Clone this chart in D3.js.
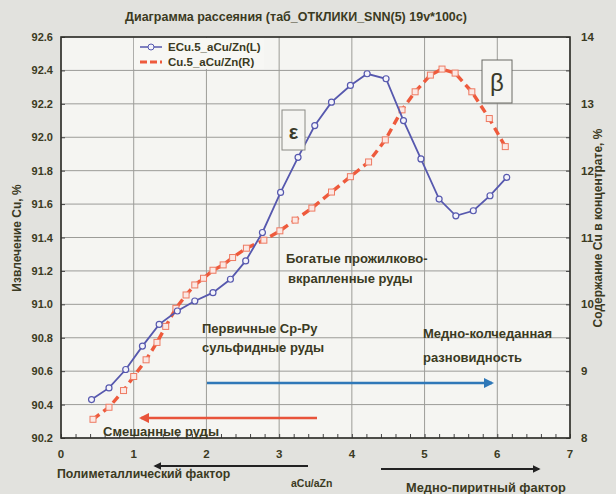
<!DOCTYPE html>
<html lang="ru">
<head>
<meta charset="utf-8" />
<title>Диаграмма рассеяния</title>
<script src="https://d3js.org/d3.v7.min.js"></script>
<style>
  body { margin: 0; background: #e2e2de; font-family: "Liberation Sans", Arial, sans-serif; }
  .lbl { font-weight: bold; fill: #3b3a22; }
  .grid line { stroke: #9c9c98; stroke-width: 1; }
</style>
</head>
<body>
<svg width="616" height="494"></svg>
<script>
// ECu.5_aCu/Zn (left axis)
const blueX = [0.42, 0.66, 0.89, 1.12, 1.35, 1.60, 1.84, 2.09, 2.33, 2.54, 2.77, 3.02, 3.26,
  3.49, 3.72, 3.98, 4.21, 4.47, 4.71, 4.95, 5.20, 5.43, 5.67, 5.90, 6.13];
const blueY = [90.43, 90.50, 90.61, 90.75, 90.88, 90.96, 91.02, 91.07, 91.15, 91.26, 91.43, 91.67, 91.88,
  92.07, 92.21, 92.31, 92.38, 92.35, 92.10, 91.87, 91.63, 91.53, 91.56, 91.65, 91.76];

// Cu.5_aCu/Zn (right axis)
const redX = [0.44, 0.66, 0.86, 1.00, 1.17, 1.32, 1.44, 1.58, 1.72, 1.84, 1.96, 2.09, 2.23, 2.36, 2.55,
  2.79, 3.01, 3.22, 3.45, 3.72, 3.98, 4.23, 4.46, 4.69, 4.87, 5.08, 5.24, 5.42, 5.65, 5.89, 6.11];
const redY = [8.28, 8.46, 8.71, 8.92, 9.17, 9.43, 9.67, 9.94, 10.14, 10.29, 10.39, 10.51, 10.59, 10.70, 10.84,
  10.96, 11.10, 11.26, 11.44, 11.68, 11.91, 12.13, 12.46, 12.91, 13.18, 13.43, 13.52, 13.46, 13.18, 12.78, 12.36];

const xTicks = [0, 1, 2, 3, 4, 5, 6, 7];
const leftTicks = [90.2, 90.4, 90.6, 90.8, 91.0, 91.2, 91.4, 91.6, 91.8, 92.0, 92.2, 92.4, 92.6];
const rightTicks = [8, 9, 10, 11, 12, 13, 14];

const svg = d3.select("svg");
const L = 61, R = 570, T = 37, B = 438;

const x = d3.scaleLinear().domain([0, 7]).range([L, R]);
const yL = d3.scaleLinear().domain([90.2, 92.6]).range([B, T]);
const yR = d3.scaleLinear().domain([8, 14]).range([B, T]);

// plot background
svg.append("rect").attr("x", L).attr("y", T).attr("width", R - L).attr("height", B - T)
  .attr("fill", "#f5f5f2");

// grid
const grid = svg.append("g").attr("class", "grid");
grid.selectAll(".h").data(leftTicks).join("line")
  .attr("x1", L).attr("x2", R).attr("y1", d => yL(d)).attr("y2", d => yL(d));
grid.selectAll(".v").data(xTicks).join("line")
  .attr("y1", T).attr("y2", B).attr("x1", d => x(d)).attr("x2", d => x(d));

// axes (ticks inside)
svg.append("g").attr("transform", `translate(0,${B})`)
  .call(d3.axisTop(x).ticks(35).tickSize(4).tickFormat(""))
  .call(g => g.select(".domain").remove())
  .call(g => g.selectAll("line").attr("stroke", "#444"));
svg.append("g").attr("transform", `translate(${L},0)`)
  .call(d3.axisRight(yL).tickValues(leftTicks).tickSize(4).tickFormat(""))
  .call(g => g.select(".domain").remove())
  .call(g => g.selectAll("line").attr("stroke", "#444"));
svg.append("g").attr("transform", `translate(${R},0)`)
  .call(d3.axisLeft(yR).ticks(12).tickSize(4).tickFormat(""))
  .call(g => g.select(".domain").remove())
  .call(g => g.selectAll("line").attr("stroke", "#444"));

svg.append("rect").attr("x", L).attr("y", T).attr("width", R - L).attr("height", B - T)
  .attr("fill", "none").attr("stroke", "#2f2f2a").attr("stroke-width", 1.6);

// tick labels
svg.append("g").selectAll("text").data(leftTicks).join("text")
  .attr("class", "lbl").attr("x", L - 8).attr("y", d => yL(d) + 4)
  .attr("text-anchor", "end").attr("font-size", 11).text(d => d.toFixed(1));
svg.append("g").selectAll("text").data(rightTicks).join("text")
  .attr("class", "lbl").attr("x", R + 11).attr("y", d => yR(d) + 4)
  .attr("font-size", 11.5).text(d => d);
svg.append("g").selectAll("text").data(xTicks).join("text")
  .attr("class", "lbl").attr("x", d => x(d)).attr("y", B + 20)
  .attr("text-anchor", "middle").attr("font-size", 11.5).text(d => d);

// title & axis titles
svg.append("text").attr("class", "lbl").attr("x", 296).attr("y", 21)
  .attr("text-anchor", "middle").attr("font-size", 12.5)
  .text("Диаграмма рассеяния (таб_ОТКЛИКИ_SNN(5) 19v*100c)");
svg.append("text").attr("class", "lbl").attr("font-size", 12).attr("text-anchor", "middle")
  .attr("transform", "translate(21,238) rotate(-90)").text("Извлечение Cu, %");
svg.append("text").attr("class", "lbl").attr("font-size", 12).attr("text-anchor", "middle")
  .attr("transform", "translate(602,228) rotate(-90)").text("Содержание Cu в концентрате, %");

// series
const blue = blueX.map((d, i) => [d, blueY[i]]);
const red = redX.map((d, i) => [d, redY[i]]);

svg.append("path").datum(red)
  .attr("d", d3.line().x(d => x(d[0])).y(d => yR(d[1])))
  .attr("fill", "none").attr("stroke", "#ee5a3c").attr("stroke-width", 3.4)
  .attr("stroke-dasharray", "8,5");
svg.append("g").selectAll("rect").data(red).join("rect")
  .attr("x", d => x(d[0]) - 3).attr("y", d => yR(d[1]) - 3).attr("width", 6).attr("height", 6)
  .attr("fill", "#fbe8e4").attr("stroke", "#ee7a62").attr("stroke-width", 1);

svg.append("path").datum(blue)
  .attr("d", d3.line().x(d => x(d[0])).y(d => yL(d[1])))
  .attr("fill", "none").attr("stroke", "#5658ae").attr("stroke-width", 1.8);
svg.append("g").selectAll("circle").data(blue).join("circle")
  .attr("cx", d => x(d[0])).attr("cy", d => yL(d[1])).attr("r", 3)
  .attr("fill", "#f4f4fb").attr("stroke", "#5658ae").attr("stroke-width", 1.2);

// legend
const lg = svg.append("g");
lg.append("rect").attr("x", L + 73).attr("y", T + 1).attr("width", 130).attr("height", 31)
  .attr("fill", "#f7f7f4");
lg.append("line").attr("x1", 140).attr("x2", 162).attr("y1", 47).attr("y2", 47)
  .attr("stroke", "#5658ae").attr("stroke-width", 1.5);
lg.append("circle").attr("cx", 151).attr("cy", 47).attr("r", 3)
  .attr("fill", "#f4f4fb").attr("stroke", "#5658ae");
lg.append("line").attr("x1", 140).attr("x2", 162).attr("y1", 62).attr("y2", 62)
  .attr("stroke", "#ee5a3c").attr("stroke-width", 3).attr("stroke-dasharray", "7,3");
lg.append("text").attr("class", "lbl").attr("x", 168).attr("y", 51).attr("font-size", 11.5)
  .text("ECu.5_aCu/Zn(L)");
lg.append("text").attr("class", "lbl").attr("x", 168).attr("y", 66).attr("font-size", 11.5)
  .text("Cu.5_aCu/Zn(R)");

// ε and β boxes
svg.append("rect").attr("x", 282).attr("y", 110).attr("width", 23).attr("height", 40)
  .attr("fill", "#f5f5f2").attr("stroke", "#8a8a84");
svg.append("text").attr("x", 293.5).attr("y", 139).attr("text-anchor", "middle")
  .attr("font-size", 20).attr("font-weight", "bold").attr("fill", "#3a3a2a").text("ε");
svg.append("rect").attr("x", 482).attr("y", 60).attr("width", 30).attr("height", 43)
  .attr("fill", "#f5f5f2").attr("stroke", "#6a6a64");
svg.append("text").attr("x", 497).attr("y", 91).attr("text-anchor", "middle")
  .attr("font-size", 24).attr("fill", "#3a3a2a").text("β");

// notes
const note = (tx, ty, s, fs) => svg.append("text").attr("class", "lbl")
  .attr("x", tx).attr("y", ty).attr("font-size", fs || 13).text(s);
note(286, 263, "Богатые прожилково-");
note(288, 283, "вкрапленные руды");
note(202, 333, "Первичные Ср-Ру");
note(202, 352, "сульфидные руды");
note(423, 338, "Медно-колчеданная");
note(423, 362, "разновидность");
note(103, 436, "Смешанные руды");

// arrows
const defs = svg.append("defs");
function marker(id, c) {
  defs.append("marker").attr("id", id).attr("viewBox", "0 0 10 10").attr("refX", 8).attr("refY", 5)
    .attr("markerWidth", 4).attr("markerHeight", 4).attr("orient", "auto")
    .append("path").attr("d", "M0,0L10,5L0,10z").attr("fill", c);
}
marker("mb", "#2f78b8"); marker("mr", "#e8533a"); marker("mk", "#222");
svg.append("line").attr("x1", 207).attr("x2", 492).attr("y1", 383).attr("y2", 383)
  .attr("stroke", "#2f78b8").attr("stroke-width", 2.6).attr("marker-end", "url(#mb)");
svg.append("line").attr("x1", 317).attr("x2", 141).attr("y1", 418).attr("y2", 418)
  .attr("stroke", "#e8533a").attr("stroke-width", 2.6).attr("marker-end", "url(#mr)");
svg.append("line").attr("x1", 308).attr("x2", 155).attr("y1", 466).attr("y2", 466)
  .attr("stroke", "#222").attr("stroke-width", 2).attr("marker-end", "url(#mk)");
svg.append("line").attr("x1", 381).attr("x2", 539).attr("y1", 469).attr("y2", 469)
  .attr("stroke", "#222").attr("stroke-width", 2).attr("marker-end", "url(#mk)");

note(57, 478, "Полиметаллический фактор", 12.3);
note(291, 487, "aCu/aZn", 10.5);
note(406, 492, "Медно-пиритный фактор", 12.8);
</script>
</body>
</html>
